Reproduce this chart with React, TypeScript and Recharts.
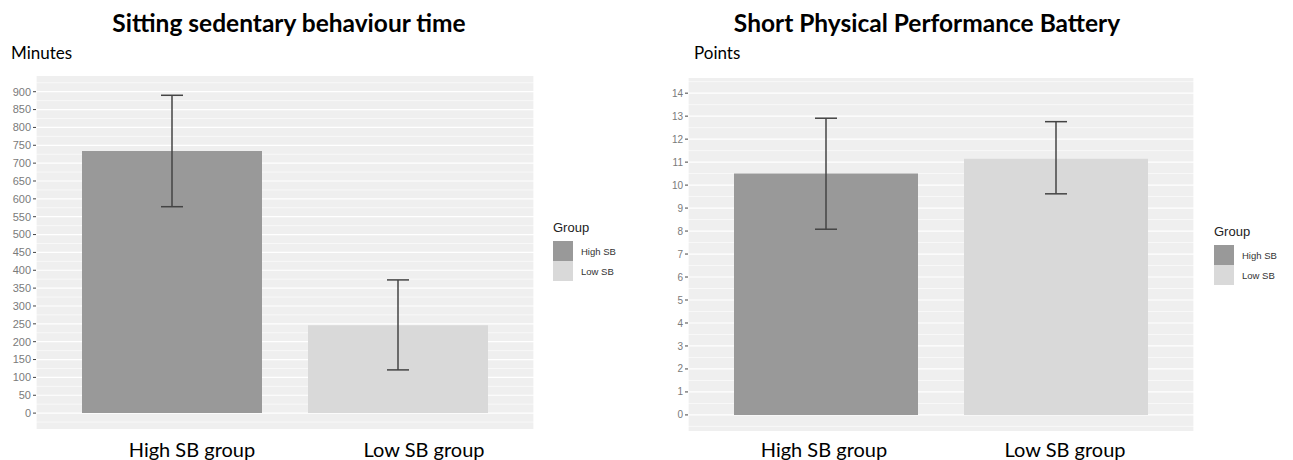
import { BarChart, Bar, XAxis, YAxis, CartesianGrid, ErrorBar, Cell } from "recharts";

const categories = ["High SB group", "Low SB group"];
const groupNames = ["High SB", "Low SB"];
const groupColors = ["#999999", "#D9D9D9"];

// sitting time (minutes): mean with [lower, upper] error
const sittingMeans = [734, 246];
const sittingErr = [
  [156, 156],
  [125, 127],
];
const sittingTicks = [0, 50, 100, 150, 200, 250, 300, 350, 400, 450, 500, 550, 600, 650, 700, 750, 800, 850, 900];
const sittingMinor = [-25, 25, 75, 125, 175, 225, 275, 325, 375, 425, 475, 525, 575, 625, 675, 725, 775, 825, 875, 925];

// SPPB (points)
const sppbMeans = [10.5, 11.15];
const sppbErr = [
  [2.42, 2.41],
  [1.53, 1.61],
];
const sppbTicks = [0, 1, 2, 3, 4, 5, 6, 7, 8, 9, 10, 11, 12, 13, 14];
const sppbMinor = [-0.5, 0.5, 1.5, 2.5, 3.5, 4.5, 5.5, 6.5, 7.5, 8.5, 9.5, 10.5, 11.5, 12.5, 13.5, 14.5];

const sittingData = categories.map((c, i) => ({ name: c, value: sittingMeans[i], err: sittingErr[i] }));
const sppbData = categories.map((c, i) => ({ name: c, value: sppbMeans[i], err: sppbErr[i] }));

const calibri = "Lato, 'Open Sans', sans-serif";
const helv = "'Liberation Sans', Arial, sans-serif";

function Legend({ left, top }: { left: number; top: number }) {
  return (
    <div style={{ position: "absolute", left, top, fontFamily: helv, color: "#222" }}>
      <div style={{ fontSize: 13, lineHeight: "15px", marginBottom: 6 }}>Group</div>
      {groupNames.map((g, i) => (
        <div key={g} style={{ display: "flex", alignItems: "center", height: 20 }}>
          <div style={{ width: 20, height: 20, background: groupColors[i] }} />
          <div style={{ fontSize: 9.5, marginLeft: 8, color: "#333" }}>{g}</div>
        </div>
      ))}
    </div>
  );
}

function Panel(props: {
  data: { name: string; value: number; err: number[] }[];
  ticks: number[];
  minor: number[];
  domain: [number, number];
  width: number;
  yWidth: number;
  top: number;
  bottom: number;
  barSize: number;
  tickFont: number;
}) {
  const { data, ticks, minor, domain, width, yWidth, top, bottom, barSize, tickFont } = props;
  return (
    <BarChart width={width} height={460} data={data} margin={{ top, right: 6, bottom, left: 0 }}>
      <CartesianGrid horizontalValues={minor} vertical={false} stroke="#ffffff" strokeWidth={0.6} fill="#EFEFEF" />
      <CartesianGrid horizontalValues={ticks} stroke="#ffffff" strokeWidth={1.2} />
      <XAxis
        dataKey="name"
        height={1}
        tick={false}
        tickLine={false}
        axisLine={false}
        padding={{ left: 23, right: 23 }}
      />
      <YAxis
        width={yWidth}
        domain={domain}
        ticks={ticks}
        interval={0}
        allowDataOverflow
        axisLine={false}
        tickSize={3}
        tickMargin={2}
        tickLine={{ stroke: "#444" }}
        tick={{ fill: "#7a7a7a", fontSize: tickFont, fontFamily: helv }}
      />
      <Bar dataKey="value" barSize={barSize} isAnimationActive={false}>
        {data.map((d, i) => (
          <Cell key={d.name} fill={groupColors[i]} />
        ))}
        <ErrorBar dataKey="err" width={11} stroke="#444" strokeWidth={1.5} direction="y" />
      </Bar>
    </BarChart>
  );
}

const titleStyle = {
  position: "absolute" as const,
  top: 8,
  transform: "translateX(-50%)",
  whiteSpace: "nowrap" as const,
  fontFamily: calibri,
  fontWeight: 700,
  fontSize: 24.5,
};

const catStyle = {
  position: "absolute" as const,
  top: 437,
  transform: "translateX(-50%)",
  whiteSpace: "nowrap" as const,
  fontFamily: calibri,
  fontSize: 20,
};

export default function App() {
  return (
    <div style={{ position: "absolute", left: 0, top: 0, width: 1293, height: 460, background: "#fff", overflow: "hidden" }}>
      <div style={{ position: "absolute", left: 0, top: 0 }}>
        <Panel
          data={sittingData}
          ticks={sittingTicks}
          minor={sittingMinor}
          domain={[-44.5, 944]}
          width={540}
          yWidth={36}
          top={76}
          bottom={30}
          barSize={180}
          tickFont={11}
        />
      </div>
      <div style={{ position: "absolute", left: 650, top: 0 }}>
        <Panel
          data={sppbData}
          ticks={sppbTicks}
          minor={sppbMinor}
          domain={[-0.7, 14.66]}
          width={550}
          yWidth={38}
          top={78}
          bottom={28}
          barSize={184}
          tickFont={10}
        />
      </div>

      <div style={{ ...titleStyle, left: 289 }}>Sitting sedentary behaviour time</div>
      <div style={{ ...titleStyle, left: 927 }}>Short Physical Performance Battery</div>
      <div style={{ position: "absolute", left: 11, top: 42, fontFamily: calibri, fontSize: 17 }}>Minutes</div>
      <div style={{ position: "absolute", left: 694, top: 42, fontFamily: calibri, fontSize: 17 }}>Points</div>

      {[192, 424].map((x, i) => (
        <div key={"l" + i} style={{ ...catStyle, left: x }}>
          {categories[i]}
        </div>
      ))}
      {[824, 1065].map((x, i) => (
        <div key={"r" + i} style={{ ...catStyle, left: x }}>
          {categories[i]}
        </div>
      ))}

      <Legend left={553} top={220} />
      <Legend left={1214} top={224} />
    </div>
  );
}
